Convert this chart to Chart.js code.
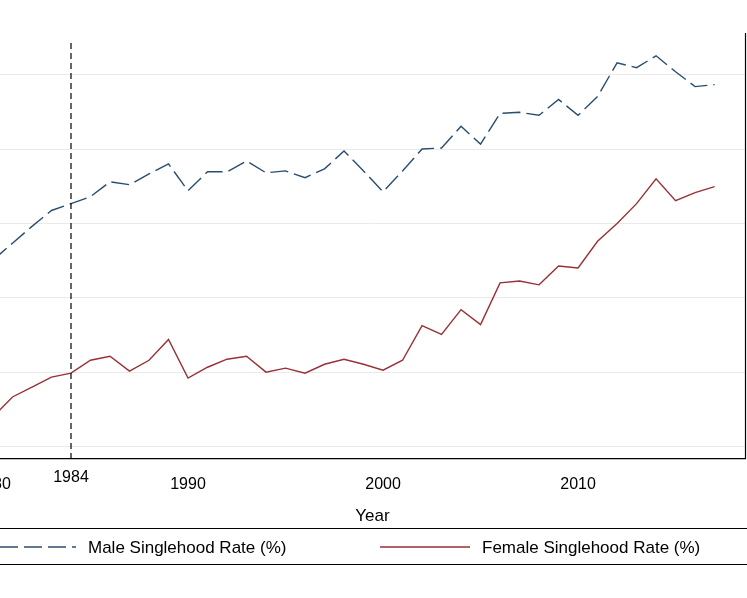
<!DOCTYPE html>
<html><head><meta charset="utf-8">
<script src="https://cdn.jsdelivr.net/npm/chart.js@4/dist/chart.umd.min.js"></script>
<style>html,body{margin:0;padding:0;background:#fff}#w{width:747px;height:598px}</style>
</head><body><div id="w"><canvas id="c"></canvas></div>
<script>
const years=[1980,1981,1982,1983,1984,1985,1986,1987,1988,1989,1990,1991,1992,1993,1994,1995,1996,1997,1998,1999,2000,2001,2002,2003,2004,2005,2006,2007,2008,2009,2010,2011,2012,2013,2014,2015,2016,2017];
const male=[22.53,23.67,24.8,25.87,26.33,26.8,27.8,27.6,28.33,29,27.2,28.47,28.47,29.2,28.4,28.53,28.07,28.67,29.87,28.53,27.13,28.53,30,30.07,31.53,30.33,32.4,32.47,32.27,33.33,32.27,33.53,35.8,35.47,36.27,35.2,34.2,34.33];
const female=[12,13.33,14,14.67,14.93,15.8,16.07,15.07,15.8,17.2,14.6,15.33,15.87,16.07,15,15.27,14.93,15.53,15.87,15.53,15.13,15.8,18.13,17.53,19.2,18.2,21,21.13,20.87,22.13,22,23.8,25,26.33,28,26.53,27.07,27.47];
const xTicks=[1980,1990,2000,2010];
const markYear=1984;
const FONT='"Liberation Sans", Arial, sans-serif';
const BLUE='#2a4d6e', RED='#9a2f36';
const deco={id:'deco',afterDraw(ch){
 const c=ch.ctx,a=ch.chartArea,x=ch.scales.x;
 c.save();
 const px=x.getPixelForValue(markYear);
 c.strokeStyle='#000';c.lineWidth=1.2;c.setLineDash([6,4]);
 c.beginPath();c.moveTo(px,a.top);c.lineTo(px,a.bottom);c.stroke();
 c.setLineDash([]);
 c.beginPath();c.moveTo(a.right+0.5,a.top-10);c.lineTo(a.right+0.5,a.bottom);c.stroke();
 c.fillStyle='#000';c.font='16px '+FONT;c.textAlign='center';c.textBaseline='middle';
 c.fillText(String(markYear),px,478);
 c.lineWidth=1;c.strokeStyle='#000';
 c.strokeRect(-2,528.5,760,36);
 c.setLineDash([18,6]);c.strokeStyle=BLUE;c.lineWidth=1.3;
 c.beginPath();c.moveTo(0,547);c.lineTo(76,547);c.stroke();
 c.setLineDash([]);c.strokeStyle=RED;
 c.beginPath();c.moveTo(380,547);c.lineTo(470,547);c.stroke();
 c.textAlign='left';c.font='17px '+FONT;
 c.fillText('Male Singlehood Rate (%)',88,548);
 c.fillText('Female Singlehood Rate (%)',482,548);
 c.restore();
}};
new Chart(document.getElementById('c'),{
 type:'line',
 data:{labels:years,datasets:[
  {label:'Male Singlehood Rate (%)',data:years.map((y,i)=>({x:y,y:male[i]})),borderColor:BLUE,borderWidth:1.4,borderDash:[18,6],pointRadius:0,tension:0},
  {label:'Female Singlehood Rate (%)',data:years.map((y,i)=>({x:y,y:female[i]})),borderColor:RED,borderWidth:1.4,pointRadius:0,tension:0}
 ]},
 options:{responsive:true,maintainAspectRatio:false,animation:false,
  layout:{padding:{top:43,left:0,right:2,bottom:71}},
  plugins:{legend:{display:false},tooltip:{enabled:false}},
  scales:{
   x:{type:'linear',min:1980.36,max:2018.56,
     afterBuildTicks:s=>{s.ticks=xTicks.map(v=>({value:v}));},
     afterFit:s=>{s.paddingLeft=0;s.paddingRight=0;},
     grid:{display:false,drawTicks:true,tickLength:5,tickColor:'#000'},
     border:{color:'#000',width:1.2},
     ticks:{color:'#000',font:{family:FONT,size:16},padding:12,maxRotation:0,autoSkip:false,callback:v=>String(v)},
     title:{display:true,text:'Year',color:'#000',font:{family:FONT,size:17},padding:{top:0,bottom:0}}},
   y:{min:9.2,max:37.13,
     afterBuildTicks:s=>{s.ticks=[10,15,20,25,30,35].map(v=>({value:v}));},
     afterFit:s=>{s.width=0;},
     ticks:{display:false},border:{display:false},
     grid:{color:'#eaeaea',drawTicks:false}}
  }},
 plugins:[deco]
});
</script></body></html>
